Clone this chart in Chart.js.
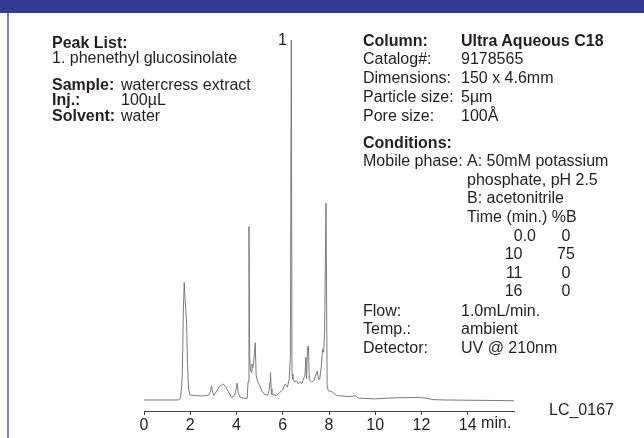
<!DOCTYPE html>
<html>
<head>
<meta charset="utf-8">
<script src="https://cdn.jsdelivr.net/npm/chart.js@4.4.1/dist/chart.umd.min.js"></script>
<style>
    body { margin: 0; background: #fff; }
    #wrap { position: relative; width: 644px; height: 438px; overflow: hidden; background: #fff; font-family: "Liberation Sans", Arial, Helvetica, sans-serif; color: #231f20; }
    #header { position: absolute; left: 0; top: 0; width: 644px; height: 13px; background: #343a90; }
    #leftBorder { position: absolute; left: 7px; top: 13px; width: 2px; height: 425px; background: #7d7fc4; }
    #chartBox { position: absolute; left: 0; top: 0; width: 644px; height: 438px; }
    .txt { position: absolute; font-size: 16px; line-height: 18px; white-space: nowrap; }
    .b { font-weight: bold; }
</style>
</head>
<body>
<div id="wrap">
    <div id="header"></div>
    <div id="leftBorder"></div>
    <div id="chartBox"><canvas id="chromChart"></canvas></div>
</div>
<script>
// ===============================
// DADOS DO CROMATOGRAMA
// ===============================
// tempo (min) e sinal (unidades relativas)
const tempos = [
    0.0, 1.5, 1.58, 1.63, 1.66, 1.70, 1.74, 1.78, 1.84, 1.88, 1.93, 1.98,
    2.2, 2.5, 2.8, 2.88, 2.92, 2.97, 3.02, 3.12, 3.25, 3.40, 3.52, 3.65,
    3.79, 3.92, 3.98, 4.03, 4.08, 4.15, 4.30, 4.46, 4.50, 4.54, 4.57, 4.60,
    4.64, 4.67, 4.70, 4.74, 4.78, 4.81, 4.85, 4.92, 5.0, 5.1, 5.2, 5.35,
    5.41, 5.45, 5.47, 5.50, 5.53, 5.72, 5.86, 6.0, 6.1, 6.2, 6.28, 6.33,
    6.37, 6.40, 6.44, 6.52, 6.6, 6.67, 6.75, 6.82, 6.88, 6.96, 7.00, 7.03,
    7.07, 7.11, 7.15, 7.25, 7.35, 7.43, 7.49, 7.55, 7.60, 7.67, 7.72, 7.77,
    7.81, 7.87, 7.92, 7.97, 8.11, 8.33, 8.9, 9.15, 9.26, 10.0, 10.5, 11.0,
    11.9, 12.2, 12.5, 13.0, 16.0
]
const sinal = [
    0, 0, 0.6, 3.8, 8, 24, 32, 27, 21.5, 10, 3, 1.4,
    1.2, 1.1, 1.3, 2.5, 3.9, 2.0, 1.2, 2.2, 3.6, 4.3, 3.8, 2.2,
    0.7, 1.2, 2.8, 4.6, 1.8, 0.8, 0.5, 0.4, 5, 47.2, 12, 8.4,
    7.5, 9.8, 8.7, 10, 13, 15.6, 6.6, 5, 3.9, 2.4, 1.6, 1.3,
    2.6, 5, 7.5, 3, 1.5, 1.2, 2.0, 2.8, 4.3, 3.5, 5.7, 12,
    98, 7, 5.7, 4.9, 5.2, 4.4, 5, 4.4, 5.4, 6.8, 11.6, 5.7,
    14.3, 14.7, 5.4, 4.9, 5.3, 6.8, 7.9, 5.5, 5.7, 9.3, 13.8, 13,
    18.3, 53.6, 3.9, 2.5, 2.3, 1.2, 0.9, 1.2, 0.5, 0.3, 0.5, 0.6,
    0.7, 0.5, 0.1, 0, -0.2
]
const ticksX = [0, 2, 4, 6, 8, 10, 12, 14]
const unidadeX = 'min.'

// ===============================
// TEXTOS (coluna, condições)
// ===============================
const textos = [
    // [texto, x, centro y, negrito, alinhamento]
    ['Peak List:', 52, 43, true],
    ['1. phenethyl glucosinolate', 52, 58.5, false],
    ['Sample:', 52, 85, true],
    ['watercress extract', 121, 85, false],
    ['Inj.:', 52, 100.5, true],
    ['100µL', 121, 100.5, false],
    ['Solvent:', 52, 116, true],
    ['water', 121, 116, false],
    ['1', 287, 40, false, 'right'],

    ['Column:', 363, 41, true],
    ['Ultra Aqueous C18', 461, 41, true],
    ['Catalog#:', 363, 59.5, false],
    ['9178565', 461, 59.5, false],
    ['Dimensions:', 363, 78, false],
    ['150 x 4.6mm', 461, 78, false],
    ['Particle size:', 363, 97, false],
    ['5µm', 461, 97, false],
    ['Pore size:', 363, 116, false],
    ['100Å', 461, 116, false],
    ['Conditions:', 363, 143.5, true],
    ['Mobile phase:', 363, 161.5, false],
    ['A: 50mM potassium', 467, 161.5, false],
    ['phosphate, pH 2.5', 467, 180, false],
    ['B: acetonitrile', 467, 198.5, false],
    ['Time (min.) %B', 467, 217, false],
    ['0.0', 536, 236, false, 'right'],
    ['0', 566, 236, false, 'center'],
    ['10', 522.5, 254.5, false, 'right'],
    ['75', 566, 254.5, false, 'center'],
    ['11', 522.5, 273, false, 'right'],
    ['0', 566, 273, false, 'center'],
    ['16', 522.5, 291.5, false, 'right'],
    ['0', 566, 291.5, false, 'center'],
    ['Flow:', 363, 311, false],
    ['1.0mL/min.', 461, 311, false],
    ['Temp.:', 363, 329.5, false],
    ['ambient', 461, 329.5, false],
    ['Detector:', 363, 348, false],
    ['UV @ 210nm', 461, 348, false],
    ['LC_0167', 549, 410, false]
]

function colocarTextos() {
    const wrap = document.getElementById('wrap')
    textos.forEach(([t, x, cy, bold, align]) => {
        const el = document.createElement('div')
        el.className = 'txt' + (bold ? ' b' : '')
        el.textContent = t
        el.style.top = (cy - 9.5) + 'px'
        wrap.appendChild(el)
        const w = el.getBoundingClientRect().width
        let left = x
        if (align === 'right') left = x - w
        if (align === 'center') left = x - w / 2
        el.style.left = left + 'px'
    })
}

// escreve " min." depois do rótulo 14
const unidadePlugin = {
    id: 'unidade',
    afterDraw(chart) {
        const sx = chart.scales.x
        const ctx = chart.ctx
        const ultimo = ticksX[ticksX.length - 1]
        ctx.save()
        ctx.font = '16px "Liberation Sans", Arial, sans-serif'
        ctx.fillStyle = '#231f20'
        ctx.textBaseline = 'top'
        const x = sx.getPixelForValue(ultimo) + ctx.measureText(String(ultimo)).width / 2
        ctx.fillText(' ' + unidadeX, x, sx.top + 4 + 1)
        ctx.restore()
    }
}

function criarGrafico() {
    const ctx = document.getElementById('chromChart').getContext('2d')
    const pontos = tempos.map((t, i) => ({ x: t, y: sinal[i] }))

    new Chart(ctx, {
        type: 'line',
        data: {
            datasets: [{
                data: pontos,
                borderColor: '#7a7a7a',
                borderWidth: 1,
                pointRadius: 0,
                tension: 0,
                fill: false
            }]
        },
        options: {
            responsive: true,
            maintainAspectRatio: false,
            animation: false,
            layout: { padding: { left: 144, right: 130, top: 40, bottom: 0 } },
            plugins: {
                legend: { display: false },
                tooltip: { enabled: false }
            },
            scales: {
                x: {
                    type: 'linear',
                    min: 0,
                    max: 16,
                    afterBuildTicks(scale) {
                        scale.ticks = ticksX.map(v => ({ value: v }))
                    },
                    afterFit(scale) {
                        scale.height = 27
                    },
                    border: { display: true, color: '#444', width: 1 },
                    grid: { display: true, drawOnChartArea: false, drawTicks: true, tickLength: 4, color: '#444' },
                    ticks: {
                        autoSkip: false,
                        maxRotation: 0,
                        padding: 1,
                        color: '#231f20',
                        font: { family: '"Liberation Sans", Arial, sans-serif', size: 16 },
                        callback: v => String(v)
                    }
                },
                y: {
                    display: false,
                    min: -3,
                    max: 98
                }
            }
        },
        plugins: [unidadePlugin]
    })
}

document.addEventListener('DOMContentLoaded', function() {
    colocarTextos()
    criarGrafico()
})
</script>
</body>
</html>
